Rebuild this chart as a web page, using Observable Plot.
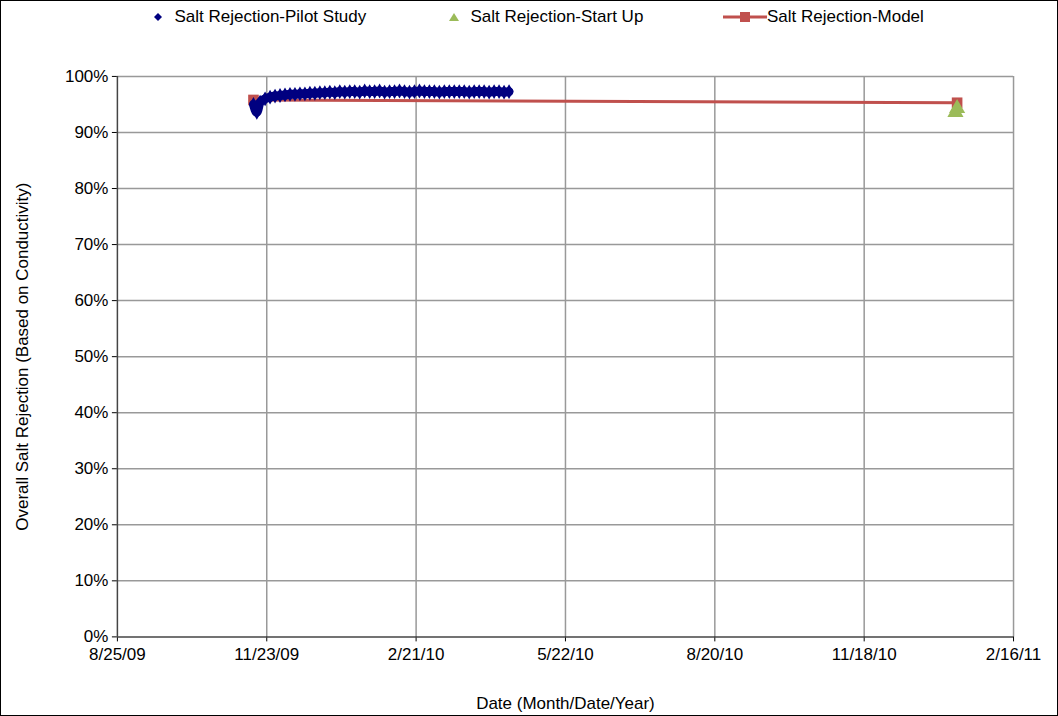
<!DOCTYPE html>
<html>
<head>
<meta charset="utf-8">
<script src="https://cdn.jsdelivr.net/npm/d3@7"></script>
<script src="https://cdn.jsdelivr.net/npm/@observablehq/plot@0.6"></script>
<style>
  body { margin: 0; background: #fff; font-family: "Liberation Sans", Arial, sans-serif; }
  #wrap { position: relative; width: 1056px; height: 714px; border: 1px solid #000; overflow: hidden; }
  #legend { position: absolute; top: 6px; left: 0; width: 100%; font-size: 17px; color: #000; }
  #legend > span { position: absolute; white-space: nowrap; display: flex; align-items: center; }
  #chart { position: absolute; top: -1px; left: -1px; }
</style>
</head>
<body>
<div id="wrap">
  <div id="chart"></div>
  <div id="legend">
    <span style="left:150px"><svg width="14" height="14"><path d="M7 3 L11 7 L7 11 L3 7Z" fill="#000080"/></svg>&nbsp; Salt Rejection-Pilot Study</span>
    <span style="left:446px"><svg width="14" height="14"><path d="M7 3 L12 11 L2 11Z" fill="#9bbb59"/></svg>&nbsp; Salt Rejection-Start Up</span>
    <span style="left:722px"><svg width="44" height="14"><line x1="0" y1="7" x2="44" y2="7" stroke="#c0504d" stroke-width="3"/><rect x="17" y="2" width="10" height="10" fill="#c0504d"/></svg>Salt Rejection-Model</span>
  </div>
</div>
<script>
const parse = d3.timeParse("%Y-%m-%d")

const pilotDates = ["2009-11-15","2009-11-17","2009-11-19","2009-11-22","2009-11-25","2009-11-28","2009-12-01","2009-12-04","2009-12-07","2009-12-10","2009-12-13","2009-12-16","2009-12-19","2009-12-22","2009-12-25","2009-12-28","2009-12-31","2010-01-03","2010-01-06","2010-01-09","2010-01-12","2010-01-15","2010-01-18","2010-01-21","2010-01-24","2010-01-27","2010-01-30","2010-02-02","2010-02-05","2010-02-08","2010-02-11","2010-02-14","2010-02-17","2010-02-20","2010-02-23","2010-02-26","2010-03-01","2010-03-04","2010-03-07","2010-03-10","2010-03-13","2010-03-16","2010-03-19","2010-03-22","2010-03-25","2010-03-28","2010-03-31","2010-04-03","2010-04-06","2010-04-09","2010-04-12","2010-04-15","2010-04-18"]
const pilotValues = [95.0, 93.6, 95.4, 96.0, 96.3, 96.5, 96.6, 96.7, 96.8, 96.8, 96.9, 96.9, 97.0, 97.0, 97.1, 97.1, 97.2, 97.1, 97.3, 97.2, 97.3, 97.3, 97.2, 97.4, 97.3, 97.3, 97.4, 97.2, 97.3, 97.3, 97.4, 97.3, 97.2, 97.3, 97.4, 97.3, 97.3, 97.3, 97.2, 97.3, 97.3, 97.3, 97.3, 97.3, 97.2, 97.3, 97.3, 97.3, 97.2, 97.3, 97.3, 97.2, 97.3]

const startUpDates = ["2011-01-12", "2011-01-13"]
const startUpValues = [93.6, 94.3]

const modelDates = ["2009-11-15", "2011-01-13"]
const modelValues = [95.8, 95.3]

const xTicks = ["2009-08-25","2009-11-23","2010-02-21","2010-05-22","2010-08-20","2010-11-18","2011-02-16"]
const yTicks = [0, 10, 20, 30, 40, 50, 60, 70, 80, 90, 100]

const pilot = pilotDates.map((d, i) => ({date: parse(d), value: pilotValues[i]}))
const startUp = startUpDates.map((d, i) => ({date: parse(d), value: startUpValues[i]}))
const model = modelDates.map((d, i) => ({date: parse(d), value: modelValues[i]}))
const ticks = xTicks.map(parse)

const chart = Plot.plot({
  width: 1058, height: 716,
  marginTop: 76, marginLeft: 117, marginRight: 44, marginBottom: 79,
  style: {fontFamily: "Liberation Sans, Arial, sans-serif", fontSize: "17px", color: "#000"},
  x: {type: "utc", domain: [ticks[0], ticks[ticks.length - 1]]},
  y: {domain: [0, 100]},
  marks: [
    Plot.ruleX(ticks.slice(1), {stroke: "#999", strokeWidth: 1.5}),
    Plot.ruleY(yTicks.slice(1), {stroke: "#999", strokeWidth: 1.5}),
    Plot.axisX({ticks, tickFormat: d3.utcFormat("%-m/%-d/%y"), tickSize: 5, tickPadding: 6,
      label: "Date (Month/Date/Year)", labelAnchor: "center", labelArrow: "none", labelOffset: 72}),
    Plot.axisY({ticks: yTicks, tickFormat: d => d + "%", tickSize: 5, tickPadding: 4,
      label: "Overall Salt Rejection (Based on Conductivity)", labelAnchor: "center", labelArrow: "none", labelOffset: 102}),
    Plot.ruleX([ticks[0]], {stroke: "#444", strokeWidth: 1.5}),
    Plot.ruleY([0], {stroke: "#444", strokeWidth: 1.5}),
    Plot.line(model, {x: "date", y: "value", stroke: "#c0504d", strokeWidth: 3}),
    Plot.dot(model, {x: "date", y: "value", symbol: "square", fill: "#c0504d", r: 6}),
    // dense daily readings merge into a thick band in the original
    Plot.line(pilot, {x: "date", y: "value", stroke: "#000080", strokeWidth: 9, curve: "monotone-x"}),
    Plot.dot(pilot, {x: "date", y: "value", symbol: "diamond", fill: "#000080", r: 4.5}),
    Plot.dot(startUp, {x: "date", y: "value", symbol: "triangle", fill: "#9bbb59", r: 6})
  ]
})
document.getElementById("chart").append(chart)
</script>
</body>
</html>
